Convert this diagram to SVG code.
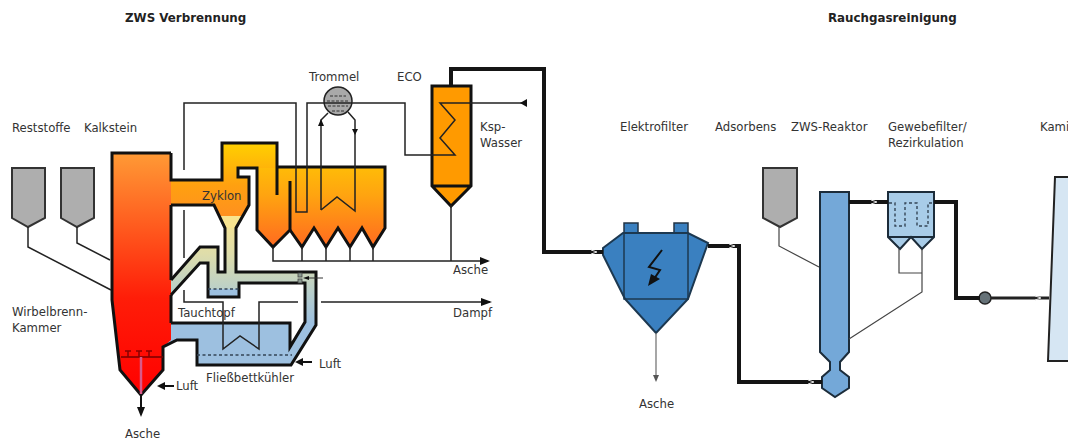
<svg xmlns="http://www.w3.org/2000/svg" width="1068" height="441" viewBox="0 0 1068 441">
<style>
text{font-family:"DejaVu Sans","Liberation Sans",sans-serif;font-size:11.7px;fill:#333;}
.title{font-weight:bold;fill:#222;font-size:11.85px;}
.w{fill:none;stroke:#111;stroke-width:3;stroke-linejoin:miter;}
.thin{fill:none;stroke:#222;stroke-width:1.5;}
.thin2{fill:none;stroke:#444;stroke-width:1.2;}
.duct{fill:none;stroke:#151515;stroke-width:4;}
.silo{fill:#aeaeae;stroke:#333;stroke-width:2;}
.dash{fill:none;stroke:#345;stroke-width:1.4;stroke-dasharray:3 2.5;}
.blk{fill:#111;stroke:none;}
</style>
<defs>
<linearGradient id="gComb" gradientUnits="userSpaceOnUse" x1="0" y1="153" x2="0" y2="395"><stop offset="0" stop-color="#ff9a35"/><stop offset=".6" stop-color="#ff1d08"/><stop offset="1" stop-color="#ff0000"/></linearGradient>
<linearGradient id="gHot" gradientUnits="userSpaceOnUse" x1="0" y1="143" x2="0" y2="247"><stop offset="0" stop-color="#ffd000"/><stop offset=".5" stop-color="#ffa410"/><stop offset="1" stop-color="#ff6a20"/></linearGradient>
<linearGradient id="gDuct" gradientUnits="userSpaceOnUse" x1="0" y1="143" x2="0" y2="228"><stop offset="0" stop-color="#ffd000"/><stop offset=".5" stop-color="#ffa010"/><stop offset="1" stop-color="#ff8a25"/></linearGradient>
<linearGradient id="gRet" gradientUnits="userSpaceOnUse" x1="0" y1="216" x2="0" y2="323"><stop offset="0" stop-color="#f8e490"/><stop offset=".35" stop-color="#dfddaa"/><stop offset=".7" stop-color="#b9cfca"/><stop offset="1" stop-color="#9dc0e0"/></linearGradient>
</defs>
<rect width="1068" height="441" fill="#fff"/>

<g id="silo-reststoffe"><path class="silo" d="M12 168H45V218L28 227L12 218Z"/><text x="12" y="132">Reststoffe</text></g>
<g id="silo-kalkstein"><path class="silo" d="M61 168H94V218L77 227L61 218Z"/><text x="84" y="132">Kalkstein</text></g>

<g id="zws-kessel">
<path d="M171 323H290V347L305 322V283H239V272H316V325L291 365H197V340H177L163 347V323Z" fill="#9dc0e0"/>
<path d="M171 280L200 247H218V272H225V228H236V272H316V325L305 322V283H239V297H208V263H200L171 295Z" fill="url(#gRet)"/>
<path d="M208 289H239V297H208Z" fill="#9dc0e0"/>
<path d="M171 180H222V143H277V167H385V228L373 247L362 228L350 247L338 228L326 247L314 228L302 247L290 230L273 247L257 230V168H238V177H249V205L236 228H225L214 205H171Z" fill="url(#gHot)"/>
<path d="M171 180H222V143H277V168H238V177H249V205L236 228H225L214 205H171Z" fill="url(#gDuct)"/>
<path d="M219 216H243L236 228H225Z" fill="#f8e490"/>
<path d="M112 153H171V340L163 347V370L141 395L120 370L112 300Z" fill="url(#gComb)"/>
<path class="w" d="M171 153H112V300L120 370L141 395L163 370V347L177 340H197V365H291L316 325V272H236V228L249 205V177H238V168H257V230L273 247L290 230V181"/>
<path class="w" d="M171 153V180H222V143H277V195"/>
<path class="w" d="M277 167H385V228L373 247L362 228L350 247L338 228L326 247L314 228L302 247L290 230"/>
<path class="w" d="M171 205H214L225 228V272H218V247H200L171 280"/>
<path class="w" d="M171 205V280M171 295V323"/>
<path class="w" d="M171 295L200 263H208V297H239V283H305V322L290 347V323H171"/>
<path d="M121 357H163" stroke="#700" stroke-width="1.5" fill="none"/>
<path d="M125 351H131M128 351V357M136 351H142M139 351V357M146 351H152M149 351V357" stroke="#800" stroke-width="1.5" fill="none"/>
<path d="M141 357V394" stroke="#d85a8a" stroke-width="2.5" fill="none"/>
<path d="M141 395V414" stroke="#111" stroke-width="2" fill="none"/>
<path d="M141 417L137 407H145Z" class="blk"/>
<path class="dash" d="M208 289H239"/>
<path class="dash" d="M197 355H292"/>
<rect x="298" y="273" width="4" height="4" fill="#8a9a90" stroke="#444" stroke-width=".8"/>
<rect x="298" y="279" width="4" height="4" fill="#8a9a90" stroke="#444" stroke-width=".8"/>
<path d="M323 278H306" stroke="#333" stroke-width="1" fill="none"/>
<path d="M303 278L309 276V280Z" class="blk"/>
<path d="M174 386H163" stroke="#111" stroke-width="2" fill="none"/>
<path d="M157 386L165 382V390Z" class="blk"/>
<path d="M312 362H300" stroke="#111" stroke-width="2" fill="none"/>
<path d="M295 362L303 358V366Z" class="blk"/>
<text x="202" y="200">Zyklon</text>
<text x="12" y="316">Wirbelbrenn-</text>
<text x="12" y="332">Kammer</text>
<text x="178" y="317">Tauchtopf</text>
<text x="206" y="382">Fließbettkühler</text>
<text x="176" y="390">Luft</text>
<text x="319" y="368">Luft</text>
<text x="125" y="438">Asche</text>
<text x="453" y="274">Asche</text>
<text x="453" y="317">Dampf</text>
</g>

<g id="trommel">
<circle cx="338" cy="101" r="14" fill="#a9a9a9" stroke="#222" stroke-width="1.5"/>
<path d="M330 96H346M327 101H349M328 106H348M332 111H344" stroke="#333" stroke-width="1" stroke-dasharray="3 1.5" fill="none"/>
<text x="309" y="81">Trommel</text>
</g>

<g id="eco">
<path d="M432 86H471V186L451 206L432 186Z" fill="#ff9a00"/>
<path d="M432 86H471V186L451 206L432 186ZM432 186H471" fill="none" stroke="#111" stroke-width="3"/>
<text x="397" y="81">ECO</text>
<text x="480" y="131">Ksp-</text>
<text x="480" y="147">Wasser</text>
</g>

<g id="elektrofilter">
<rect x="624" y="223" width="14" height="10" fill="#3a80c0" stroke="#234" stroke-width="1.5"/>
<rect x="674" y="223" width="14" height="10" fill="#3a80c0" stroke="#234" stroke-width="1.5"/>
<path d="M603 248L623 233H688L708 243L688 299L656 333L625 299L603 255Z" fill="#3a80c0" stroke="#1c3850" stroke-width="2"/>
<path d="M624 233V299H688V233" fill="none" stroke="#1c3850" stroke-width="1.5"/>
<path d="M662 250L649 267L660 270L654 279" fill="none" stroke="#111" stroke-width="2"/>
<path d="M648 286L651 274L660 279Z" fill="#111"/>
<text x="620" y="131">Elektrofilter</text>
<text x="639" y="408">Asche</text>
</g>

<g id="silo-adsorbens"><path class="silo" d="M763 168H797V218L780 227L763 218Z"/><text x="715" y="131">Adsorbens</text></g>

<g id="zws-reaktor">
<path d="M820 192H849V352L840 362V370L849 377V388L835 397L822 388V377L830 370V362L820 352Z" fill="#74a8d8" stroke="#1c2c3a" stroke-width="2"/>
<text x="791" y="131">ZWS-Reaktor</text>
</g>

<g id="gewebefilter">
<path d="M888 192H934V237L922 249L911 237L900 249L888 237Z" fill="#a8cce8" stroke="#1c2c3a" stroke-width="2"/>
<path d="M888 237H934" stroke="#1c2c3a" stroke-width="2" fill="none"/>
<path class="dash" d="M889 203H895V226H905V203H917V226H928V203H933"/>
<text x="888" y="131">Gewebefilter/</text>
<text x="888" y="147">Rezirkulation</text>
</g>

<g id="geblaese">
<circle cx="985" cy="298" r="6" fill="#667278" stroke="#222" stroke-width="1.5"/>
</g>

<g id="kamin">
<path d="M1055 177H1068V361H1048Z" fill="#d6e6f3"/>
<path d="M1068 177H1055L1048 361H1068" fill="none" stroke="#222" stroke-width="2"/>
<text x="1040" y="131">Kami</text>
</g>

<g id="connectors">
<path class="thin" d="M184 170V103H296V212H307V103H405V155H455L440 138L455 120L440 103H522"/>
<path d="M520 103L527 99V107Z" class="blk"/>
<path class="thin" d="M184 210V258M184 290V302H223V349L240 336L259 349V302H298M321 302H490" />
<path d="M492 302L481 298V306Z" class="blk"/>
<path class="thin" d="M321 210V120L328 113M321 210L337 197L355 211V120L348 112"/>
<path d="M321 119L318 126H324Z M355 135L352 129H358Z" class="blk"/>
<path class="thin" d="M273 247V261H488M302 247V261M326 247V261M350 247V261M373 247V261M451 205V261"/>
<path d="M490 261L480 257V265Z" class="blk"/>
<path class="thin" d="M28 227V247L111 290M77 227V243L110 260"/>
<path class="thin2" d="M779 227V246L819 267M899 249V273H922M922 249V292L849 339"/>
<path d="M656 333V378" stroke="#777" stroke-width="1.3" fill="none"/>
<path d="M656 382L653 375H659Z" fill="#555"/>
<path class="duct" d="M451 85V69H544V252H603"/>
<path class="duct" d="M708 246H739V382H822"/>
<path class="duct" d="M849 202H888M934 202H956V298H980"/>
<path d="M991 298H1049" stroke="#222" stroke-width="3" fill="none"/>
<g stroke="#ddd" stroke-width="1" fill="none"><path d="M591 250L597 252L591 254M729 244L735 246L729 248M808 380L814 382L808 384M871 200L877 202L871 204M1035 296L1041 298L1035 300"/></g>
</g>

<text class="title" x="125" y="22">ZWS Verbrennung</text>
<text class="title" x="828" y="22">Rauchgasreinigung</text>
</svg>
